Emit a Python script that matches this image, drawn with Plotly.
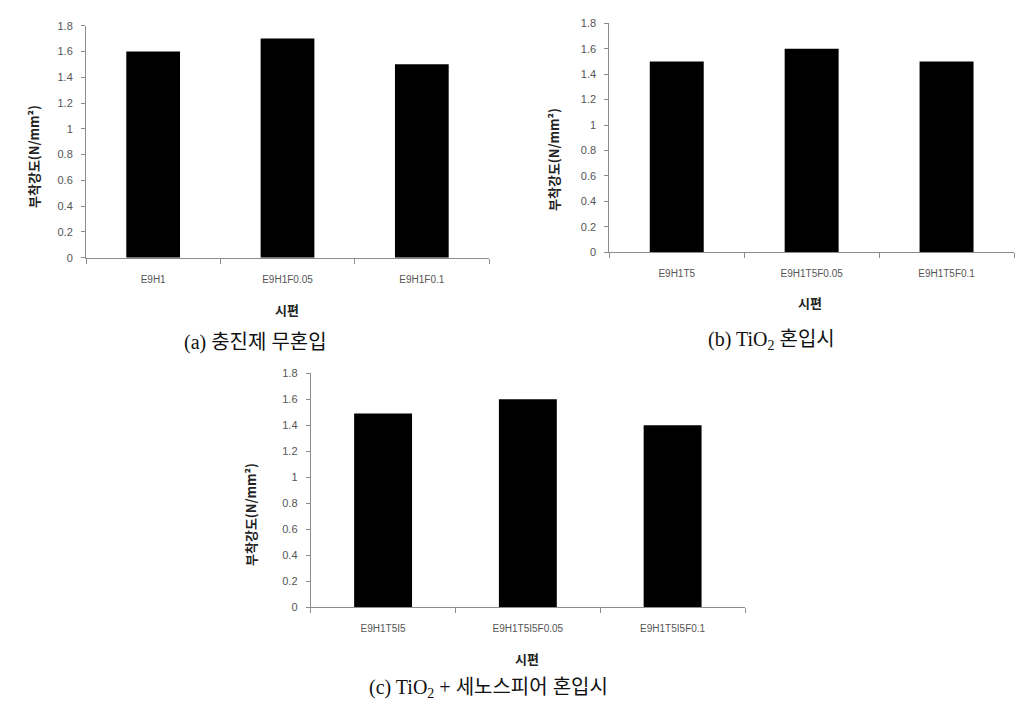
import plotly.graph_objects as go

cats_a = ["E9H1", "E9H1F0.05", "E9H1F0.1"]
vals_a = [1.6, 1.7, 1.5]
cats_b = ["E9H1T5", "E9H1T5F0.05", "E9H1T5F0.1"]
vals_b = [1.5, 1.6, 1.5]
cats_c = ["E9H1T5I5", "E9H1T5I5F0.05", "E9H1T5I5F0.1"]
vals_c = [1.49, 1.6, 1.4]
y_ticks = [0, 0.2, 0.4, 0.6, 0.8, 1, 1.2, 1.4, 1.6, 1.8]
y_title = "부착강도(N/mm²)"
x_title = "시편"
captions = ["(a) 충진제 무혼입", "(b) TiO<sub>2</sub> 혼입시", "(c) TiO<sub>2</sub> + 세노스피어 혼입시"]

W, H = 1027, 703
def px(x): return x / W
def py(y): return 1 - y / H

fig = go.Figure()
panels = [
    (cats_a, vals_a, "x", "y", (86, 489), (25.7, 257.7)),
    (cats_b, vals_b, "x2", "y2", (609.3, 1014), (23.3, 252.3)),
    (cats_c, vals_c, "x3", "y3", (310.7, 745), (373.3, 607.3)),
]
axis_color = "#8c8c8c"
tick_font = dict(family="Liberation Sans, Arial, sans-serif", size=10, color="#555555")
layout = {}
for i, (cats, vals, xa, ya, (x0, x1), (yt, yb)) in enumerate(panels):
    fig.add_trace(go.Bar(x=cats, y=vals, xaxis=xa, yaxis=ya,
                         marker=dict(color="black", line=dict(width=0)),
                         width=0.4, showlegend=False))
    sfx = "" if i == 0 else str(i + 1)
    layout["xaxis" + sfx] = dict(
        domain=[px(x0), px(x1)], anchor=ya, type="category", automargin=False,
        range=[-0.5, 2.5], showline=True, linecolor=axis_color, linewidth=1,
        ticks="outside", tickson="boundaries", ticklen=5, tickcolor=axis_color,
        ticklabelstandoff=12,
        showgrid=False, zeroline=False, tickfont=tick_font, fixedrange=True)
    layout["yaxis" + sfx] = dict(
        domain=[py(yb), py(yt)], anchor=xa, range=[0, 1.8], automargin=False,
        tickvals=y_ticks, ticktext=[str(v) for v in y_ticks],
        showline=True, linecolor=axis_color, linewidth=1,
        ticks="outside", ticklen=4, tickcolor=axis_color, ticklabelstandoff=6,
        showgrid=False, zeroline=False,
        tickfont=dict(family="Liberation Sans, Arial, sans-serif", size=11, color="#555555"))

ytitle_pos = [(33, 157), (553, 160), (250, 515)]
xtitle_pos = [(287, 310), (810, 302), (527, 658)]
cap_pos = [(255, 342), (771, 340), (488, 688)]
annotations = []
for (x, y) in ytitle_pos:
    annotations.append(dict(x=px(x), y=py(y), xref="paper", yref="paper", text="<b>" + y_title + "</b>",
                            textangle=-90, showarrow=False, xanchor="center", yanchor="middle",
                            font=dict(family="Noto Sans CJK KR", size=13, color="#222222")))
for (x, y) in xtitle_pos:
    annotations.append(dict(x=px(x), y=py(y), xref="paper", yref="paper", text="<b>" + x_title + "</b>",
                            showarrow=False, xanchor="center", yanchor="middle",
                            font=dict(family="Noto Sans CJK KR", size=13, color="#222222")))
for (x, y), t in zip(cap_pos, captions):
    annotations.append(dict(x=px(x), y=py(y), xref="paper", yref="paper", text=t,
                            showarrow=False, xanchor="center", yanchor="middle",
                            font=dict(family="Liberation Serif, Noto Sans CJK KR", size=20, color="#111111")))

fig.update_layout(template="none", width=W, height=H, margin=dict(l=0, r=0, t=0, b=0),
                  paper_bgcolor="white", plot_bgcolor="white",
                  annotations=annotations, bargap=0.6, **layout)
fig.write_html("out.html", config={"displayModeBar": False},
               post_script="document.body.style.margin='0';document.body.style.overflow='hidden';")
